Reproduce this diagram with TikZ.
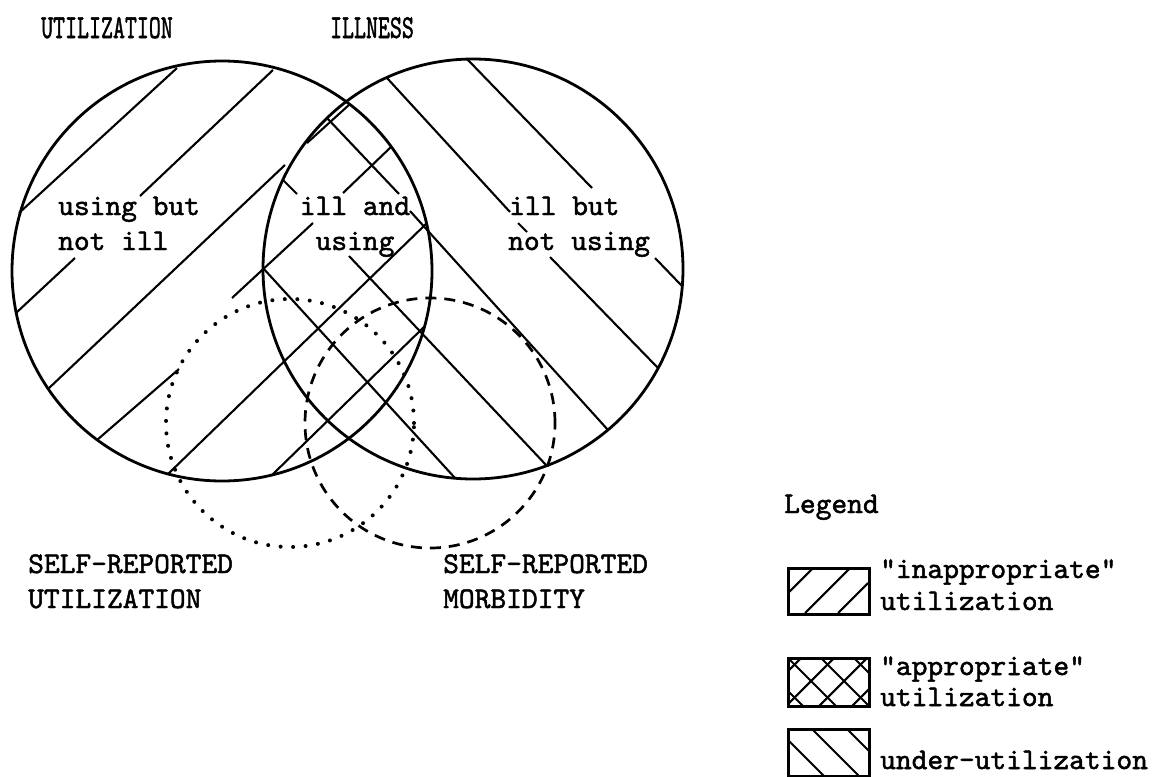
\documentclass[tikz,border=0pt]{standalone}
\usepackage{fontspec}
\newfontfamily\typew{lmmono10-regular.otf}[FakeBold=1.6]
\begin{document}
\begin{tikzpicture}[x=1pt,y=-1pt,
  ring/.style={circle,draw,line width=2.8pt,minimum size=420pt,inner sep=0pt,outer sep=0pt},
  selfring/.style={circle,draw,inner sep=0pt,outer sep=0pt},
  dotring/.style={selfring,line width=4pt,minimum size=248pt,line cap=round,dash pattern=on 0pt off 12.5pt},
  dashring/.style={selfring,line width=2.7pt,minimum size=250pt,dash pattern=on 11pt off 8pt},
  hatch/.style={line width=2.1pt},
  lab/.style={font=\fontsize{30}{35}\selectfont\typew,inner sep=0pt,anchor=base west},
  clab/.style={lab,anchor=base},
  keybox/.style={draw,line width=2.6pt}]
\useasboundingbox (0,0) rectangle (1158,776);

% main circles
\node[ring] (util) at (222,271) {};
\node[ring] (ill) at (473,269) {};
\node[dotring] (sru) at (290,423) {};
\node[dashring] (srm) at (430,423) {};

% "/" hatching (utilization)
\draw[hatch] (19,213) -- (177,68);
\draw[hatch] (16,313) -- (75,258);
\draw[hatch] (140,196) -- (273,70);
\draw[hatch] (48,389) -- (285,165);
\draw[hatch] (307,143) -- (350,104);
\draw[hatch] (97,440) -- (179,369);
\draw[hatch] (232,298) -- (313,223);
\draw[hatch] (343,193) -- (391,147);
\draw[hatch] (168,474) -- (427,223);
\draw[hatch] (272,475) -- (425,326);

% "\" hatching (illness)
\draw[hatch] (467,59) -- (592,188);
\draw[hatch] (655,258) -- (682,286);
\draw[hatch] (387,78) -- (510,212);
\draw[hatch] (518,223) -- (527,232);
\draw[hatch] (550,257) -- (658,368);
\draw[hatch] (327,118) -- (399,194);
\draw[hatch] (410,211) -- (608,430);
\draw[hatch] (283,180) -- (297,194);
\draw[hatch] (349,256) -- (547,466);
\draw[hatch] (263,268) -- (455,478);

% circle labels
\node[clab] (tu) at (107,38) {\scalebox{0.76}[1.12]{UTILIZATION}};
\node[clab] (ti) at (372,38) {\scalebox{0.76}[1.12]{ILLNESS}};

\node[lab] (ub1) at (58,215) {using but};
\node[lab] (ub2) at (58,250) {not ill};
\node[clab] (iu1) at (355,215) {ill and};
\node[clab] (iu2) at (355,250) {using};
\node[lab] (in1) at (509,215) {ill but};
\node[lab] (in2) at (508,250) {not using};

\node[lab] (su1) at (28,573) {SELF-REPORTED};
\node[lab] (su2) at (28,608) {UTILIZATION};
\node[lab] (sm1) at (443,573) {SELF-REPORTED};
\node[lab] (sm2) at (443,608) {MORBIDITY};

% legend
\node[lab] (leg) at (784,513) {Legend};

\begin{scope}
  \clip (787,567) rectangle (868,613);
  \draw[hatch] (787,594) -- (814,567);
  \draw[hatch] (805,613) -- (851,567);
  \draw[hatch] (838,613) -- (868,583);
\end{scope}
\node[keybox,minimum width=81pt,minimum height=46pt,inner sep=0pt,anchor=north west] (k1) at (787,567) {};
\node[lab] (k1a) at (880,578) {"inappropriate"};
\node[lab] (k1b) at (880,610) {utilization};

\begin{scope}
  \clip (787,657) rectangle (868,705);
  \foreach \d in {-97,-130,-163,-196} {\draw[hatch] (770,770+\d) -- (890,890+\d);}
  \foreach \c in {1459,1492,1525,1558} {\draw[hatch] (770,\c-770) -- (890,\c-890);}
\end{scope}
\node[keybox,minimum width=81pt,minimum height=48pt,inner sep=0pt,anchor=north west] (k2) at (787,657) {};
\node[lab] (k2a) at (880,675) {"appropriate"};
\node[lab] (k2b) at (880,706) {utilization};

\begin{scope}
  \clip (787,728) rectangle (868,775);
  \foreach \d in {-48,-83,-118} {\draw[hatch] (770,770+\d) -- (890,890+\d);}
\end{scope}
\node[keybox,minimum width=81pt,minimum height=47pt,inner sep=0pt,anchor=north west] (k3) at (787,728) {};
\node[lab] (k3a) at (880,769) {under-utilization};
\end{tikzpicture}
\end{document}
